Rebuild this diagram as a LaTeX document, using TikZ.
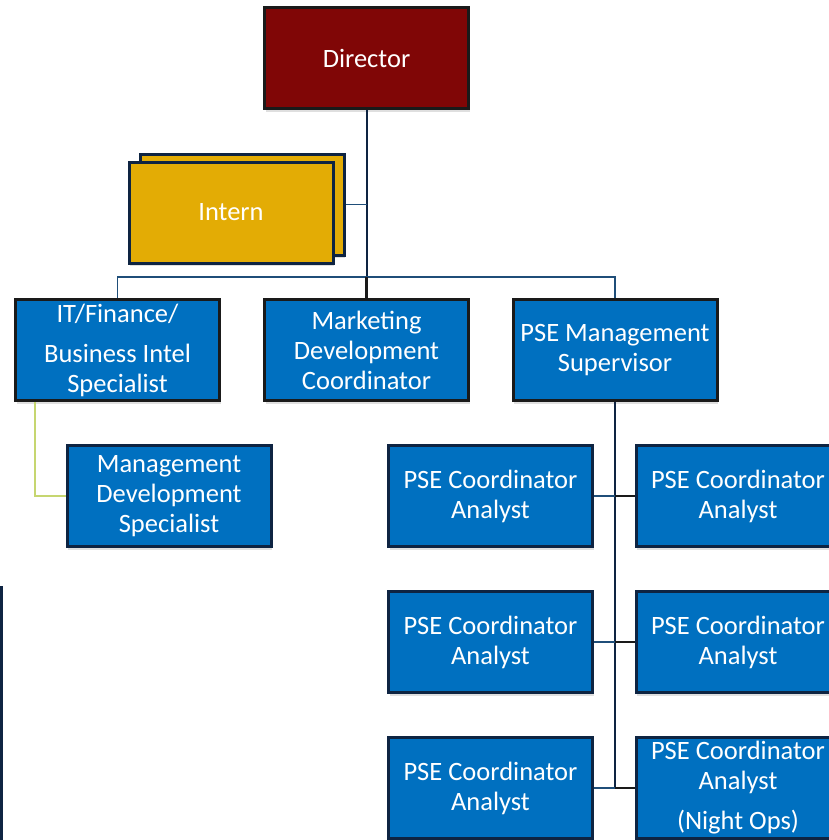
\documentclass[tikz,border=0pt]{standalone}
\usepackage{fontspec}
\setmainfont{Carlito}
\usetikzlibrary{calc,shadows}

\definecolor{dirred}{RGB}{128,6,6}
\definecolor{interngold}{RGB}{227,172,5}
\definecolor{posblue}{RGB}{0,112,192}
\definecolor{navyline}{RGB}{14,36,66}
\definecolor{busline}{RGB}{31,78,121}
\definecolor{darkedge}{RGB}{26,26,26}
\definecolor{dotline}{RGB}{198,214,112}

\begin{document}
\begin{tikzpicture}[x=0.5pt, y=-0.5pt,
    font=\fontsize{13.25}{15}\selectfont,
    box/.style={draw=darkedge, line width=1.5pt, fill=posblue, text=white,
      minimum width=102pt, minimum height=50.5pt, inner sep=0pt, align=center,
      drop shadow={shadow xshift=0.6pt, shadow yshift=-1.6pt, opacity=0.25}},
    navybox/.style={box, draw=navyline},
    link/.style={draw=navyline, line width=1pt},
    buslink/.style={draw=busline, line width=0.75pt},
    blacklink/.style={draw=darkedge, line width=1.25pt}]
  \useasboundingbox (0,0) rectangle (829,840);
  \clip (0,0) rectangle (829,840);
  % top level
  \node[box, fill=dirred] (dir) at (366.5,58) {Director};
  % intern, drawn as a small stack
  \node[navybox, fill=interngold] (internback) at (242,204.5) {};
  \node[navybox, fill=interngold] (intern) at (231,212.5) {Intern};
  % second level
  \node[box] (it)  at (117.5,350) {IT/Finance/\\[5pt]Business Intel\\Specialist};
  \node[box] (mkt) at (366.5,350) {Marketing\\Development\\Coordinator};
  \node[box] (psm) at (615,350)   {PSE Management\\Supervisor};
  \node[navybox] (mds) at (169,496) {Management\\Development\\Specialist};
  % coordinator analysts: left and right columns
  \node[navybox] (pcl1) at (490.5,496) {PSE Coordinator\\Analyst};
  \node[navybox] (pcr1) at (738,496)   {PSE Coordinator\\Analyst};
  \node[navybox] (pcl2) at (490.5,642) {PSE Coordinator\\Analyst};
  \node[navybox] (pcr2) at (738,642)   {PSE Coordinator\\Analyst};
  \node[navybox] (pcl3) at (490.5,788) {PSE Coordinator\\Analyst};
  \node[navybox] (pcr3) at (738,788)   {PSE Coordinator\\Analyst\\[5pt](Night Ops)};
  % box cut off at the left edge
  \draw[navyline, line width=1.5pt, fill=white] (-200,587.5) rectangle (1.5,900);
  % connectors
  \coordinate (bus) at (366.5,277);
  \draw[link] (dir.south) -- (bus);
  \draw[buslink] (internback.east) -- (internback.east -| dir.south);
  \draw[buslink] (it.north) |- (bus) -| (psm.north);
  \draw[blacklink] (bus) -- (mkt.north);
  \draw[dotline, line width=1pt] ($(it.south west)+(21,0)$) |- (mds.west);
  \draw[link] (psm.south) -- (psm.south |- pcl3.east);
  \foreach \r in {1,2,3} {
    \draw[buslink] (pcl\r.east) -- (pcl\r.east -| psm.south);
    \draw[blacklink] (pcl\r.east -| psm.south) -- (pcr\r.west);
  }
\end{tikzpicture}
\end{document}
